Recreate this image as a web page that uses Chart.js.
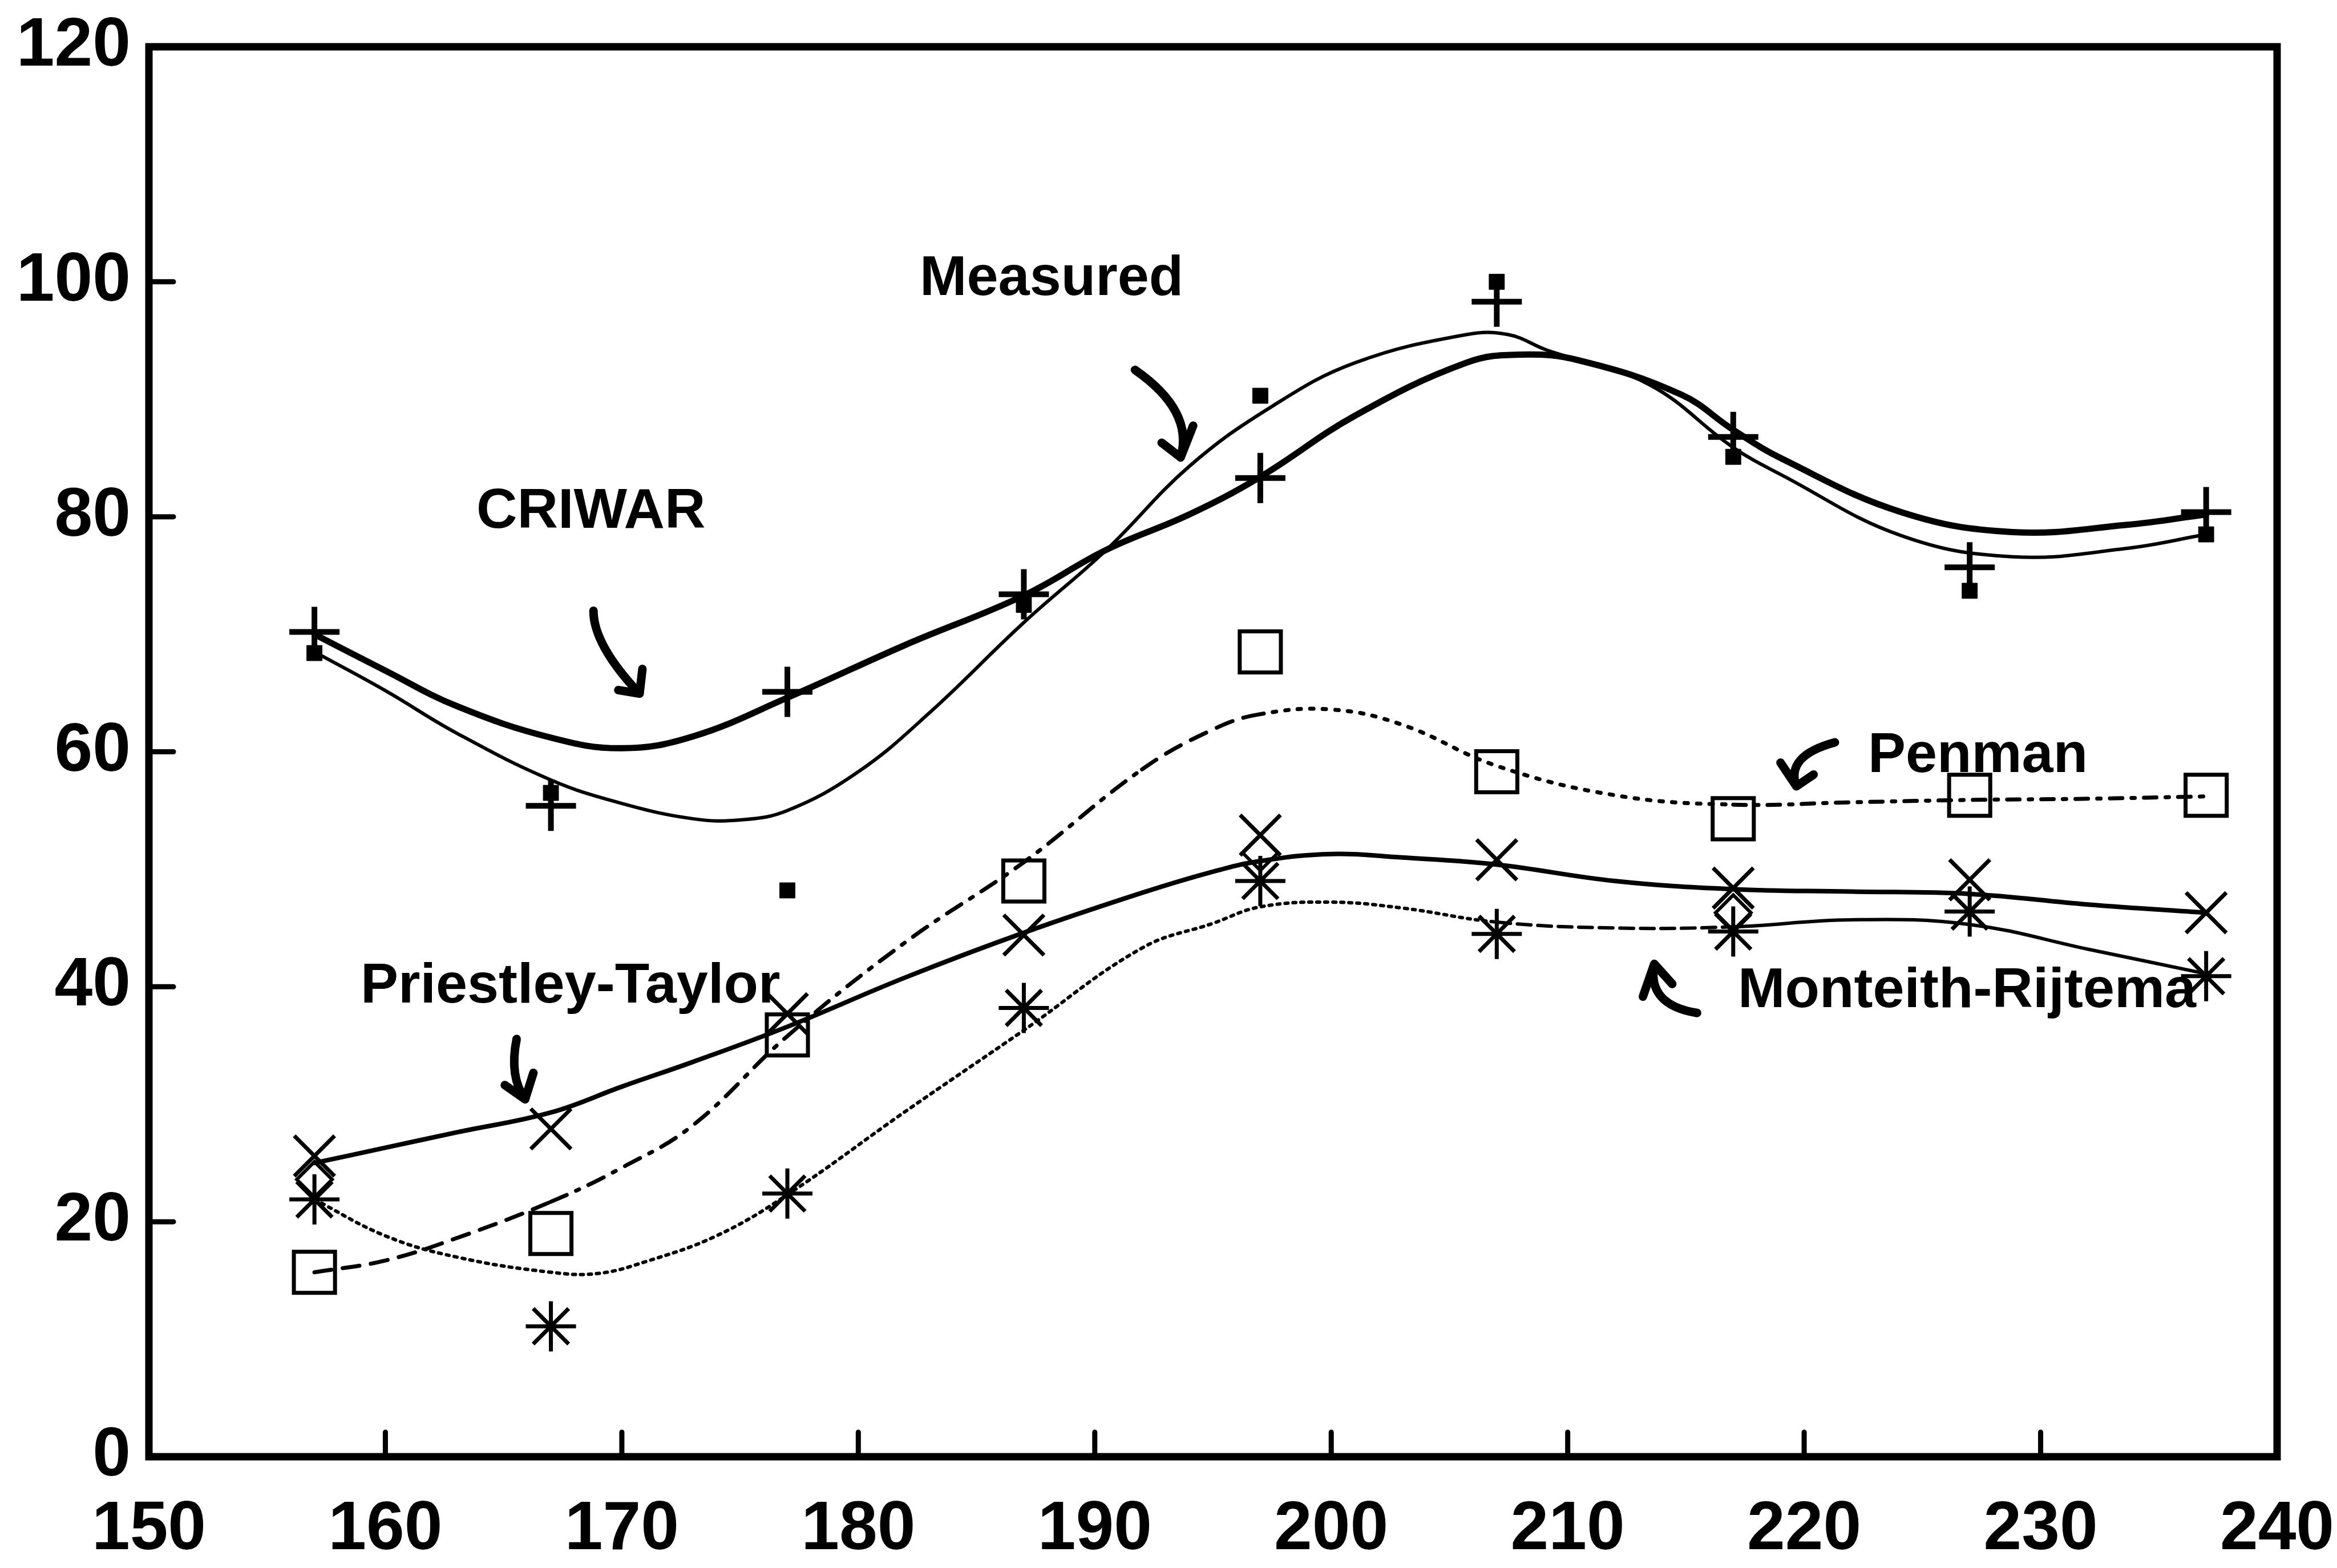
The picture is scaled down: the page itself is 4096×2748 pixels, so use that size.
<!DOCTYPE html>
<html>
<head>
<meta charset="utf-8">
<script src="https://cdn.jsdelivr.net/npm/chart.js@4"></script>
<style>
  html, body { margin: 0; padding: 0; background: #fff; }
  canvas { display: block; }
</style>
</head>
<body>
<canvas id="chart" width="4096" height="2748"></canvas>
<script>
// Valores (dias 157..237)
var days = [157, 167, 177, 187, 197, 207, 217, 227, 237];
var criwarPts = [70.2, 55.4, 65.1, 73.4, 83.3, 98.3, 86.8, 75.7, 80.4];
var measuredPts = [68.4, 56.5, 48.2, 72.5, 90.3, 100.0, 85.1, 73.7, 78.5];
var penmanPts = [15.7, 19.0, 35.9, 49.0, 68.5, 58.3, 54.3, 56.3, 56.3];
var priestleyPts = [25.6, 27.9, 37.7, 44.4, 52.9, 50.8, 48.4, 49.1, 46.3];
var monteithPts = [21.9, 11.1, 22.4, 38.2, 49.0, 44.5, 44.7, 46.4, 40.9];
var diamondDays = [157, 197, 217];
var diamondPts = [23.6, 51.4, 46.3];

// Curvas ajustadas (lidas ponto a ponto)
var criwarCurveX = [157, 160, 163, 167, 170, 173, 177, 182, 187, 190.5, 194, 197, 201, 205.7, 208, 210.5, 214.8, 217, 219.1, 224.1, 228.8, 233.6, 237];
var criwarCurveY = [70.0, 66.9, 63.9, 61.2, 60.3, 61.3, 64.6, 69.1, 73.3, 77.2, 80.2, 83.4, 88.6, 93.1, 93.8, 93.3, 90.4, 87.4, 84.9, 80.4, 78.7, 79.3, 80.2];
var measuredCurveX = [157, 160, 163, 167, 170, 173, 175, 177, 180, 183, 187, 190.5, 194, 197.5, 201, 205.7, 207.5, 209.1, 213.4, 217, 219.1, 224.1, 228.8, 233.6, 237];
var measuredCurveY = [68.5, 65.2, 61.6, 57.6, 55.6, 54.3, 54.2, 55.0, 58.3, 63.3, 71.0, 77.2, 84.3, 89.4, 93.1, 95.5, 95.5, 94.2, 91.3, 85.9, 83.5, 78.4, 76.6, 77.3, 78.5];
var curveX = [157, 160, 163, 167, 170, 173, 177, 182, 187, 192, 195, 197, 200, 203, 207, 212, 217, 222, 227, 232, 237];
var penmanCurveY = [15.7, 16.7, 18.6, 21.7, 24.6, 28.2, 35.8, 43.8, 50.6, 58.5, 61.9, 63.2, 63.6, 62.3, 58.8, 56.3, 55.5, 55.7, 55.9, 56.0, 56.2];
var priestleyCurveY = [25.0, 26.3, 27.6, 29.3, 31.5, 33.6, 36.6, 40.8, 44.6, 48.0, 49.8, 50.7, 51.3, 51.0, 50.4, 49.0, 48.3, 48.1, 47.9, 47.0, 46.3];
var monteithCurveX = [157, 160, 163, 167, 169, 171, 174, 177, 182, 187, 192, 195, 197, 200, 203, 207, 212, 217, 222, 227, 232, 237];
var monteithCurveY = [21.9, 18.8, 17.0, 15.7, 15.6, 16.6, 18.8, 22.3, 29.4, 36.3, 43.3, 45.4, 46.8, 47.2, 46.7, 45.5, 45.0, 45.1, 45.7, 45.3, 43.2, 41.1];

// Rótulos do gráfico (em unidades dos eixos)
var labelTexts = ["Measured", "CRIWAR", "Penman", "Priestley-Taylor", "Monteith-Rijtema"];
var labelX = [182.6, 163.85, 222.7, 158.95, 217.2];
var labelY = [100.2, 80.4, 59.6, 40.0, 39.6];

// Setas curvas: início, controle, ponta, farpa 1, farpa 2
var arrows = [
  [[191.7, 92.5], [194.2, 89.0], [193.63, 85.05], [192.83, 86.3], [194.16, 87.75]],
  [[168.8, 72.0], [168.8, 69.1], [170.75, 64.95], [169.85, 65.25], [170.87, 67.05]],
  [[221.3, 60.8], [219.2, 59.65], [219.67, 57.06], [219.0, 59.07], [220.4, 58.06]],
  [[165.55, 35.55], [165.23, 32.36], [165.91, 30.42], [165.05, 31.63], [166.26, 32.67]],
  [[215.47, 37.77], [213.34, 38.47], [213.66, 41.94], [213.18, 39.16], [214.42, 40.24]]
];

var xTicks = [150, 160, 170, 180, 190, 200, 210, 220, 230, 240];
var yTicks = [0, 20, 40, 60, 80, 100, 120];

function toPoints(xs, ys) {
  return xs.map(function(x, i) { return { x: x, y: ys[i] }; });
}

function curve(xs, ys, width, segment) {
  return {
    data: toPoints(xs, ys),
    borderColor: "#000",
    borderWidth: width,
    pointRadius: 0,
    tension: 0.4,
    borderCapStyle: "round",
    segment: segment || {}
  };
}

function markers(xs, ys, style, radius, width, fill) {
  return {
    data: toPoints(xs, ys),
    showLine: false,
    pointStyle: style,
    pointRadius: radius,
    pointBorderWidth: width,
    pointBorderColor: "#000",
    pointBackgroundColor: fill || "rgba(0,0,0,0)"
  };
}

// Estilos de traço por trecho
function penmanDash(ctx) {
  var x = ctx.p0.parsed.x;
  if (x < 167) return [30, 20];
  if (x < 192) return [30, 18, 6, 18];
  if (x < 197) return [30, 20];
  if (x < 217) return [6, 16];
  return [22, 16, 6, 16];
}

function monteithDash(ctx) {
  var x = ctx.p0.parsed.x;
  if (x < 207) return [5, 9];
  if (x < 217) return [24, 12];
  return undefined;
}

// Sem folga extra dos rótulos: a área do gráfico fica onde a moldura original está
function noPadding(scale) {
  scale.paddingLeft = 0;
  scale.paddingRight = 0;
  scale.paddingTop = 0;
  scale.paddingBottom = 0;
}

// Moldura, marcas internas, rótulos e setas
var decorPlugin = {
  id: "decor",
  afterDatasetsDraw: function(chart) {
    var ctx = chart.ctx;
    var a = chart.chartArea;
    var sx = chart.scales.x;
    var sy = chart.scales.y;
    ctx.save();
    ctx.strokeStyle = "#000";
    ctx.fillStyle = "#000";
    ctx.lineCap = "round";

    ctx.lineWidth = 9;
    xTicks.forEach(function(v) {
      if (v === 150 || v === 240) return;
      var px = sx.getPixelForValue(v);
      ctx.beginPath();
      ctx.moveTo(px, a.bottom);
      ctx.lineTo(px, a.bottom - 43);
      ctx.stroke();
    });
    yTicks.forEach(function(v) {
      if (v === 0 || v === 120) return;
      var py = sy.getPixelForValue(v);
      ctx.beginPath();
      ctx.moveTo(a.left, py);
      ctx.lineTo(a.left + 43, py);
      ctx.stroke();
    });

    ctx.lineCap = "butt";
    ctx.lineWidth = 13;
    ctx.strokeRect(a.left, a.top, a.right - a.left, a.bottom - a.top);

    ctx.font = 'bold 99px "Liberation Sans", Arial, sans-serif';
    ctx.textAlign = "left";
    ctx.textBaseline = "middle";
    labelTexts.forEach(function(t, i) {
      ctx.fillText(t, sx.getPixelForValue(labelX[i]), sy.getPixelForValue(labelY[i]));
    });

    ctx.lineWidth = 15;
    ctx.lineCap = "round";
    ctx.lineJoin = "round";
    arrows.forEach(function(ar) {
      var p = ar.map(function(q) { return [sx.getPixelForValue(q[0]), sy.getPixelForValue(q[1])]; });
      ctx.beginPath();
      ctx.moveTo(p[0][0], p[0][1]);
      ctx.quadraticCurveTo(p[1][0], p[1][1], p[2][0], p[2][1]);
      ctx.moveTo(p[3][0], p[3][1]);
      ctx.lineTo(p[2][0], p[2][1]);
      ctx.lineTo(p[4][0], p[4][1]);
      ctx.stroke();
    });
    ctx.restore();
  }
};

Chart.defaults.font.family = '"Liberation Sans", Arial, sans-serif';
Chart.defaults.font.weight = "bold";
Chart.defaults.color = "#000";

var chart = new Chart(document.getElementById("chart").getContext("2d"), {
  type: "line",
  data: {
    datasets: [
      curve(criwarCurveX, criwarCurveY, 11),
      curve(measuredCurveX, measuredCurveY, 6),
      curve(curveX, penmanCurveY, 7, { borderDash: penmanDash }),
      curve(curveX, priestleyCurveY, 8),
      curve(monteithCurveX, monteithCurveY, 6, { borderDash: monteithDash }),
      markers(days, criwarPts, "cross", 44, 10),
      markers(days, measuredPts, "rect", 19, 1, "#000"),
      markers(days, penmanPts, "rect", 51, 7),
      markers(days, priestleyPts, "crossRot", 50, 7),
      markers(days, monteithPts, "star", 44, 7),
      markers(diamondDays, diamondPts, "rectRot", 31, 6)
    ]
  },
  options: {
    responsive: false,
    animation: false,
    devicePixelRatio: 1,
    layout: { padding: { top: 82, right: 105, left: 0, bottom: 0 } },
    plugins: { legend: { display: false }, tooltip: { enabled: false } },
    scales: {
      x: {
        type: "linear",
        min: 150,
        max: 240,
        afterBuildTicks: function(scale) { scale.ticks = xTicks.map(function(v) { return { value: v }; }); },
        afterFit: function(scale) { scale.height = 195; noPadding(scale); },
        ticks: { font: { size: 120, weight: "bold" }, padding: 57, maxRotation: 0 },
        grid: { display: false, drawTicks: false },
        border: { display: false }
      },
      y: {
        type: "linear",
        min: 0,
        max: 120,
        afterBuildTicks: function(scale) { scale.ticks = yTicks.map(function(v) { return { value: v }; }); },
        afterFit: function(scale) { scale.width = 261; noPadding(scale); },
        ticks: { font: { size: 120, weight: "bold" }, padding: 32 },
        grid: { display: false, drawTicks: false },
        border: { display: false }
      }
    }
  },
  plugins: [decorPlugin]
});
</script>
</body>
</html>
